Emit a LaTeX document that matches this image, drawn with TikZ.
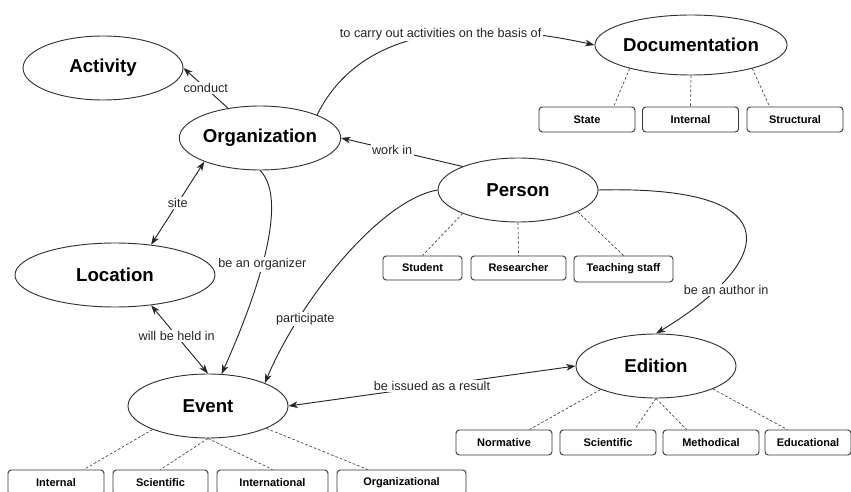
\documentclass[tikz,border=0pt]{standalone}
\usepackage{fontspec}
\setmainfont{Liberation Sans}
\usetikzlibrary{shapes.geometric,arrows.meta}

\begin{document}
\begin{tikzpicture}[x=0.75pt, y=-0.75pt, >={Stealth[length=7pt, width=5pt, inset=2pt]},
    concept/.style = {shape=ellipse, draw=black!80, line width=0.7pt, inner sep=0pt,
                      minimum width=120pt, minimum height=48pt, font=\fontsize{14}{16}\selectfont\bfseries},
    kind/.style = {shape=rectangle, rounded corners=2.5pt, draw=black!80, line width=0.7pt, inner sep=0pt,
                   minimum width=72pt, minimum height=18.75pt, font=\fontsize{8.25}{10}\selectfont\bfseries},
    rel/.style = {draw=black!85, line width=0.7pt},
    lbl/.style = {fill=white, inner sep=1pt, font=\fontsize{9.5}{11}\selectfont, text=black!85},
    sub/.style = {draw=black!75, line width=0.5pt, dash pattern=on 2pt off 1.5pt}]
    \useasboundingbox (0,0) rectangle (851,492);

    % concepts
    \node[concept] (act) at (103,68) {Activity};
    \node[concept] (org) at (260,138) {Organization};
    \node[concept, minimum height=45pt] (doc) at (691,45) {Documentation};
    \node[concept] (pers) at (518,190) {Person};
    \node[concept, minimum width=150pt] (loc) at (115,275) {Location};
    \node[concept] (evt) at (208,406) {Event};
    \node[concept] (edit) at (656,366) {Edition};

    % kinds
    \node[kind] (docstate) at (587,119.5) {State};
    \node[kind] (docint) at (690.5,119.5) {Internal};
    \node[kind] (docstruct) at (795,119.5) {Structural};

    \node[kind, minimum width=59.25pt, minimum height=18pt] (student) at (422.5,268) {Student};
    \node[kind, minimum width=71.25pt, minimum height=18pt] (researcher) at (518.5,268) {Researcher};
    \node[kind, minimum width=74.25pt, minimum height=19.5pt] (staff) at (623.5,269) {Teaching staff};

    \node[kind] (evtint) at (56,482.5) {Internal};
    \node[kind, minimum width=71.25pt] (evtsci) at (160.5,482.5) {Scientific};
    \node[kind, minimum width=83.25pt] (evtintl) at (272.5,482.5) {International};
    \node[kind, minimum width=96.75pt] (evtorg) at (401.5,482.5) {Organizational};

    \node[kind] (normative) at (504,442.5) {Normative};
    \node[kind] (edsci) at (608,442.5) {Scientific};
    \node[kind] (methodical) at (711,442.5) {Methodical};
    \node[kind, minimum width=64.5pt] (educational) at (808,442.5) {Educational};

    % kinds hang off their concepts
    \draw[sub] (doc.-159) -- (docstate.26.6);
    \draw[sub] (doc.south) -- (docint.north);
    \draw[sub] (doc.-21) -- (docstruct.153.4);
    \draw[sub] (pers.-157) -- (student.north);
    \draw[sub] (pers.south) -- (researcher.north);
    \draw[sub] (pers.-20.4) -- (staff.north);
    \draw[sub] (evt.-157.5) -- (evtint.25.7);
    \draw[sub] (evt.south) -- (evtsci.north);
    \draw[sub] (evt.south) -- (evtintl.north);
    \draw[sub] (evt.-21.8) -- (evtorg.159.5);
    \draw[sub] (edit.-157) -- (normative.27.5);
    \draw[sub] (edit.south) -- (edsci.26.6);
    \draw[sub] (edit.south) -- (methodical.152.5);
    \draw[sub] (edit.-22) -- (educational.148);

    % relations
    \draw[rel, ->] (org.137) -- node[lbl] {conduct} (act.east);
    \draw[rel, ->] (org.22) .. controls (365,18) and (490,22) .. node[lbl, pos=0.52] {to carry out activities on the basis of} (doc.west);
    \draw[rel, ->] (pers.157.7) -- node[lbl, pos=0.58] {work in} (org.east);
    \draw[rel, <->] (org.-157.5) -- node[lbl] {site} (loc.40.9);
    \draw[rel, ->] (org.south) .. controls (285,195) and (268,270) .. node[lbl, pos=0.6] {be an organizer} (evt.67);
    \draw[rel, <->] (loc.-40) -- node[lbl, pos=0.45] {will be held in} (evt.north);
    \draw[rel, ->] (pers.west) .. controls (380,200) and (300,300) .. node[lbl, pos=0.75, xshift=5pt] {participate} (evt.22.5);
    \draw[rel, ->] (pers.east) .. controls (800,185) and (770,265) .. node[lbl, pos=0.77, xshift=5pt, yshift=-3pt] {be an author in} (edit.north);
    \draw[rel, <->] (evt.east) -- node[lbl] {be issued as a result} (edit.west);
\end{tikzpicture}
\end{document}
